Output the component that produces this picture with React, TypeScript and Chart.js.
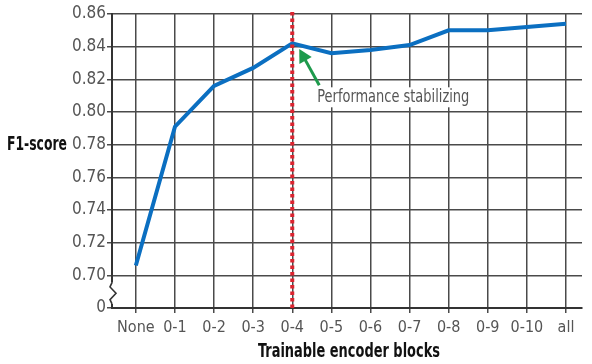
import React, { useEffect, useRef } from "react";
import { Chart, registerables } from "chart.js";

Chart.register(...registerables);

const categories = ["None", "0-1", "0-2", "0-3", "0-4", "0-5", "0-6", "0-7", "0-8", "0-9", "0-10", "all"];
const f1Scores = [0.706, 0.791, 0.816, 0.827, 0.842, 0.836, 0.838, 0.841, 0.850, 0.850, 0.852, 0.854];
const yTicks = [0.68, 0.70, 0.72, 0.74, 0.76, 0.78, 0.80, 0.82, 0.84, 0.86];
const yTickLabels = ["0", "0.70", "0.72", "0.74", "0.76", "0.78", "0.80", "0.82", "0.84", "0.86"];
const markerIndex = 4;
const annotationText = "Performance stabilizing";
const yTitle = "F1-score";
const xTitle = "Trainable encoder blocks";

const FONT = "'DejaVu Sans Condensed', 'Liberation Sans Narrow', 'Roboto', sans-serif";
const GRID = "#4a4a4a";
const LABEL = "#555555";

function fitText(ctx: any, text: string, x: number, y: number, width: number, align: string) {
  const w = ctx.measureText(text).width;
  const s = width / w;
  ctx.save();
  ctx.textAlign = "left";
  const left = align === "center" ? x - width / 2 : x;
  ctx.translate(left, y);
  ctx.scale(s, 1);
  ctx.fillText(text, 0, 0);
  ctx.restore();
}

const overlayPlugin = {
  id: "overlay",
  afterDatasetsDraw(chart: any) {
    const ctx = chart.ctx;
    const xs = chart.scales.x;
    const ys = chart.scales.y;
    const area = chart.chartArea;
    ctx.save();

    // red dotted vertical line
    const vx = xs.getPixelForValue(markerIndex);
    ctx.strokeStyle = "#dc2430";
    ctx.lineWidth = 4;
    ctx.setLineDash([3.5, 3]);
    ctx.beginPath();
    ctx.moveTo(vx, area.top - 2);
    ctx.lineTo(vx, area.bottom);
    ctx.stroke();
    ctx.setLineDash([]);

    // annotation text with white background
    ctx.font = "17px " + FONT;
    ctx.textBaseline = "middle";
    const tx = vx + 25;
    const ty = ys.getPixelForValue(0.809);
    const tw = 152;
    ctx.fillStyle = "#ffffff";
    ctx.fillRect(tx - 2, ty - 10, tw + 4, 20);
    ctx.fillStyle = LABEL;
    fitText(ctx, annotationText, tx, ty, tw, "left");

    // green arrow
    const ax0 = vx + 27, ay0 = ty - 12;
    const ax1 = vx + 7, ay1 = ys.getPixelForValue(0.8385);
    const ang = Math.atan2(ay1 - ay0, ax1 - ax0);
    ctx.strokeStyle = "#1e9a4c";
    ctx.fillStyle = "#1e9a4c";
    ctx.lineWidth = 3;
    ctx.beginPath();
    ctx.moveTo(ax0, ay0);
    ctx.lineTo(ax1 - 8 * Math.cos(ang), ay1 - 8 * Math.sin(ang));
    ctx.stroke();
    const hl = 13, hw = 7;
    ctx.beginPath();
    ctx.moveTo(ax1, ay1);
    ctx.lineTo(ax1 - hl * Math.cos(ang) + hw * Math.sin(ang), ay1 - hl * Math.sin(ang) - hw * Math.cos(ang));
    ctx.lineTo(ax1 - hl * Math.cos(ang) - hw * Math.sin(ang), ay1 - hl * Math.sin(ang) + hw * Math.cos(ang));
    ctx.closePath();
    ctx.fill();

    // axis break zigzag
    const bx = area.left;
    const b0 = ys.getPixelForValue(0.6955);
    const b1 = ys.getPixelForValue(0.6825);
    ctx.fillStyle = "#ffffff";
    ctx.fillRect(bx - 2, b0, 4, b1 - b0);
    ctx.strokeStyle = "#333333";
    ctx.lineWidth = 1.6;
    const h = b1 - b0;
    ctx.beginPath();
    ctx.moveTo(bx, b0);
    ctx.lineTo(bx - 2, b0 + h * 0.2);
    ctx.lineTo(bx + 4, b0 + h * 0.5);
    ctx.lineTo(bx - 2, b0 + h * 0.8);
    ctx.lineTo(bx, b1);
    ctx.stroke();

    // titles
    ctx.font = "bold 19px " + FONT;
    ctx.fillStyle = "#111111";
    ctx.textBaseline = "middle";
    fitText(ctx, yTitle, 7, ys.getPixelForValue(0.78), 60, "left");
    fitText(ctx, xTitle, (area.left + area.right) / 2 + 2, 352, 182, "center");

    ctx.restore();
  },
};

export default function App() {
  const ref = useRef<HTMLCanvasElement>(null);
  useEffect(() => {
    if (!ref.current) return;
    const chart = new Chart(ref.current, {
      type: "line",
      data: {
        datasets: [
          {
            data: f1Scores.map((v, i) => ({ x: i, y: v })),
            borderColor: "#0b6fc1",
            borderWidth: 4,
            pointRadius: 0,
            tension: 0,
            fill: false,
          },
        ],
      },
      options: {
        animation: false,
        responsive: true,
        maintainAspectRatio: false,
        layout: { padding: { top: 14, right: 10, left: 0, bottom: 0 } },
        plugins: { legend: { display: false }, tooltip: { enabled: false } },
        scales: {
          x: {
            type: "linear",
            min: -0.61,
            max: 11.41,
            afterBuildTicks: (s: any) => {
              s.ticks = categories.map((_, i) => ({ value: i }));
            },
            afterFit: (s: any) => {
              s.height = 56;
            },
            ticks: {
              autoSkip: false,
              maxRotation: 0,
              padding: 5,
              color: LABEL,
              font: { family: FONT, size: 16 },
              callback: (v: any) => categories[Math.round(Number(v))] ?? "",
            },
            grid: { color: GRID, lineWidth: 1.5, tickLength: 5, drawOnChartArea: true },
            border: { display: true, color: "#333333", width: 2 },
          },
          y: {
            type: "linear",
            min: 0.68,
            max: 0.86,
            afterBuildTicks: (s: any) => {
              s.ticks = yTicks.map((v) => ({ value: v }));
            },
            afterFit: (s: any) => {
              s.width = 112;
            },
            ticks: {
              padding: 1,
              color: LABEL,
              font: { family: FONT, size: 17 },
              callback: (v: any) => {
                const idx = yTicks.findIndex((t) => Math.abs(t - Number(v)) < 1e-6);
                return idx >= 0 ? yTickLabels[idx] : "";
              },
            },
            grid: { color: GRID, lineWidth: 1.5, tickLength: 5 },
            border: { display: true, color: "#333333", width: 2 },
          },
        },
      },
      plugins: [overlayPlugin],
    } as any);
    return () => chart.destroy();
  }, []);
  return (
    <div style={{ position: "fixed", left: 0, top: 0, width: 592, height: 364, background: "#fff" }}>
      <canvas ref={ref} />
    </div>
  );
}
